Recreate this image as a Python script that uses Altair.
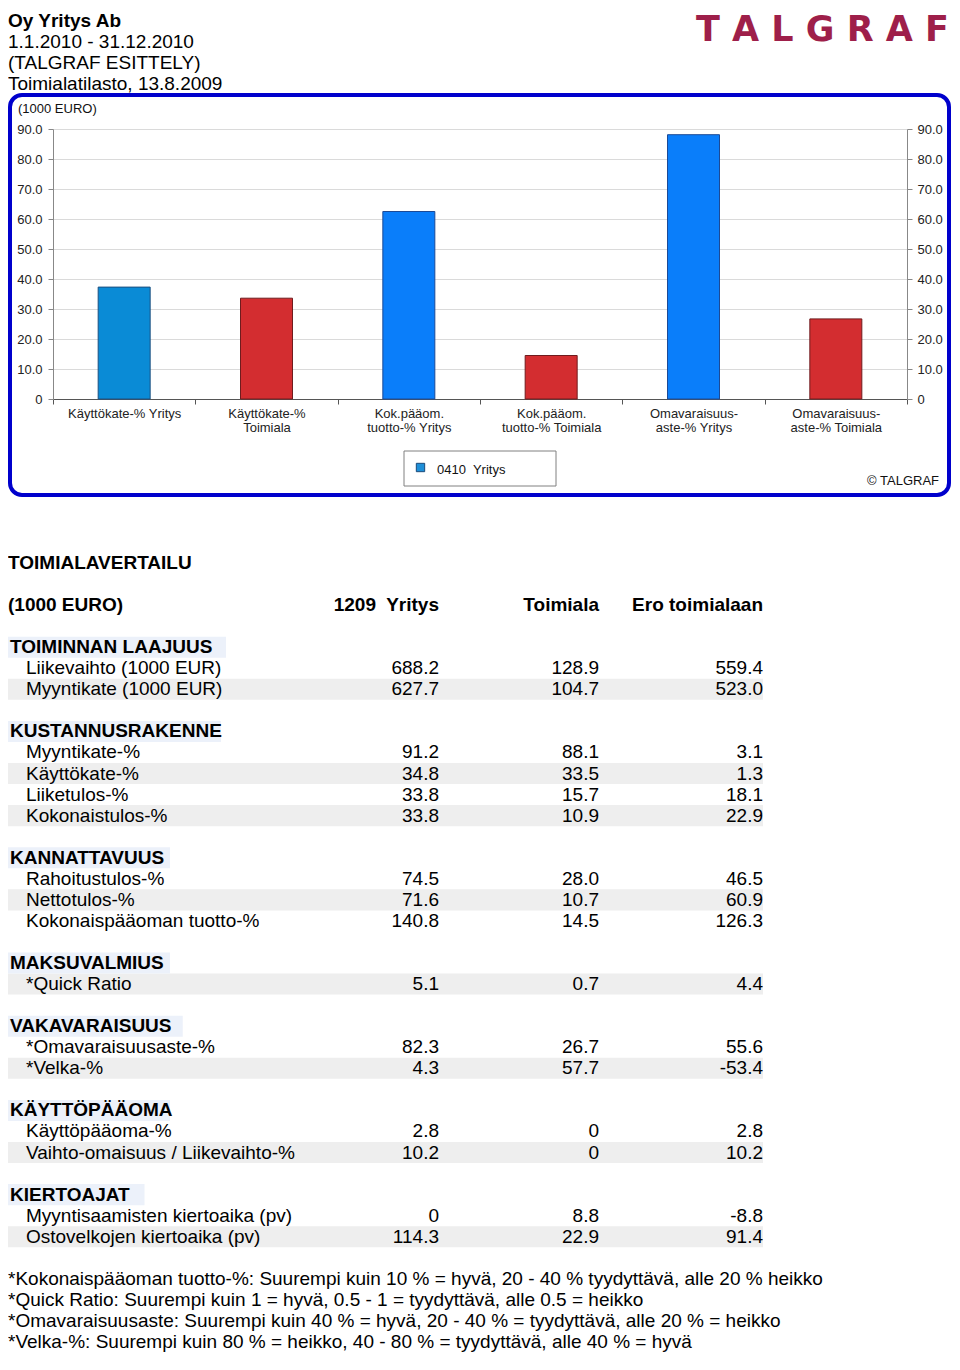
import altair as alt
import pandas as pd

FONT = "Liberation Sans"

# ---------------- header ----------------
header_lines = ["Oy Yritys Ab", "1.1.2010 - 31.12.2010", "(TALGRAF ESITTELY)", "Toimialatilasto, 13.8.2009"]
header_index = [0, 1, 2, 3]
logo_text = ["T A L G R A F"]

# ---------------- bar chart ----------------
bar_categories = [
    "Käyttökate-% Yritys",
    "Käyttökate-%|Toimiala",
    "Kok.pääom.|tuotto-% Yritys",
    "Kok.pääom.|tuotto-% Toimiala",
    "Omavaraisuus-|aste-% Yritys",
    "Omavaraisuus-|aste-% Toimiala",
]
bar_values = [37.3, 33.6, 62.5, 14.5, 88.1, 26.7]
bar_groups = ["Yritys A", "Toimiala", "Yritys", "Toimiala", "Yritys", "Toimiala"]
y_ticks = [0, 10, 20, 30, 40, 50, 60, 70, 80, 90]
unit_label = ["(1000 EURO)"]
legend_label = ["0410\u00a0 Yritys"]
copyright_label = ["© TALGRAF"]

# ---------------- table ----------------
table_title = "TOIMIALAVERTAILU"
table_unit = "(1000 EURO)"
column_headers = ["1209\u00a0 Yritys", "Toimiala", "Ero toimialaan"]
sections = ["TOIMINNAN LAAJUUS", "KUSTANNUSRAKENNE", "KANNATTAVUUS", "MAKSUVALMIUS",
            "VAKAVARAISUUS", "KÄYTTÖPÄÄOMA", "KIERTOAJAT"]
section_rows = [
    ["Liikevaihto (1000 EUR)", "Myyntikate (1000 EUR)"],
    ["Myyntikate-%", "Käyttökate-%", "Liiketulos-%", "Kokonaistulos-%"],
    ["Rahoitustulos-%", "Nettotulos-%", "Kokonaispääoman tuotto-%"],
    ["*Quick Ratio"],
    ["*Omavaraisuusaste-%", "*Velka-%"],
    ["Käyttöpääoma-%", "Vaihto-omaisuus / Liikevaihto-%"],
    ["Myyntisaamisten kiertoaika (pv)", "Ostovelkojen kiertoaika (pv)"],
]
yritys = [688.2, 627.7, 91.2, 34.8, 33.8, 33.8, 74.5, 71.6, 140.8, 5.1, 82.3, 4.3, 2.8, 10.2, 0, 114.3]
toimiala = [128.9, 104.7, 88.1, 33.5, 15.7, 10.9, 28.0, 10.7, 14.5, 0.7, 26.7, 57.7, 0, 0, 8.8, 22.9]
ero = [559.4, 523.0, 3.1, 1.3, 18.1, 22.9, 46.5, 60.9, 126.3, 4.4, 55.6, -53.4, 2.8, 10.2, -8.8, 91.4]
footnotes = [
    "*Kokonaispääoman tuotto-%: Suurempi kuin 10 % = hyvä, 20 - 40 % tyydyttävä, alle 20 % heikko",
    "*Quick Ratio: Suurempi kuin 1 = hyvä, 0.5 - 1 = tyydyttävä, alle 0.5 = heikko",
    "*Omavaraisuusaste: Suurempi kuin 40 % = hyvä, 20 - 40 % = tyydyttävä, alle 20 % = heikko",
    "*Velka-%: Suurempi kuin 80 % = heikko, 40 - 80 % = tyydyttävä, alle 40 % = hyvä",
]


def fmt(v):
    return "0" if v == 0 else f"{v:.1f}"


# build table lines
recs = [dict(line=-4, label=table_title, kind="title", v1="", v2="", v3="", shade=0),
        dict(line=-2, label=table_unit, kind="colhead", v1=column_headers[0],
             v2=column_headers[1], v3=column_headers[2], shade=0)]
line = 0
i = 0
for sec, rows in zip(sections, section_rows):
    recs.append(dict(line=line, label=sec, kind="section", v1="", v2="", v3="", shade=0))
    line += 1
    for r in rows:
        recs.append(dict(line=line, label=r, kind="row", v1=fmt(yritys[i]), v2=fmt(toimiala[i]),
                         v3=fmt(ero[i]), shade=1 if line % 2 == 0 else 0))
        i += 1
        line += 1
    line += 1
for f in footnotes:
    recs.append(dict(line=line, label=f, kind="foot", v1="", v2="", v3="", shade=0))
    line += 1
table_df = pd.DataFrame(recs)

bars_df = pd.DataFrame({"category": bar_categories, "value": bar_values, "group": bar_groups})
header_df = pd.DataFrame({"hline": header_index, "text": header_lines})
one = pd.DataFrame({"k": [0]})

# ---------------- encodings ----------------
group_domain = ["Yritys A", "Yritys", "Toimiala"]
fill_range = ["#0A8BD6", "#0A7EFA", "#D32D30"]
stroke_range = ["#1C4F80", "#1C4A96", "#6F1C1E"]

y_label_expr = "datum.value == 0 ? '0' : format(datum.value, '.1f')"

x_enc = alt.X(
    "category:N", sort=None,
    scale=alt.Scale(paddingInner=0, paddingOuter=0),
    axis=alt.Axis(title=None, labelExpr="split(datum.label, '|')", labelAngle=0,
                  labelFontSize=13, labelColor="#222", labelPadding=3, labelLineHeight=14,
                  labelBaseline="top", tickBand="extent", tickSize=5, tickColor="#555",
                  domainColor="#555", labelFont=FONT),
)

bars = alt.Chart(bars_df).mark_bar(width=52, strokeWidth=1).encode(
    x=x_enc,
    y=alt.Y("value:Q", scale=alt.Scale(domain=[0, 90], nice=False),
            axis=alt.Axis(title=None, values=y_ticks, labelExpr=y_label_expr, grid=True,
                          gridColor="#DADADA", orient="left", tickSize=5, tickColor="#888",
                          domainColor="#888", labelPadding=6, labelFontSize=13,
                          labelColor="#222", labelFont=FONT)),
    color=alt.Color("group:N", scale=alt.Scale(domain=group_domain, range=fill_range), legend=None),
    stroke=alt.Stroke("group:N", scale=alt.Scale(domain=group_domain, range=stroke_range), legend=None),
)

right_axis = alt.Chart(bars_df).mark_bar(width=52, opacity=0).encode(
    x=alt.X("category:N", sort=None, scale=alt.Scale(paddingInner=0, paddingOuter=0), axis=None),
    y=alt.Y("value:Q", scale=alt.Scale(domain=[0, 90], nice=False),
            axis=alt.Axis(title=None, values=y_ticks, labelExpr=y_label_expr, grid=False,
                          orient="right", tickSize=5, tickColor="#888", domainColor="#888",
                          labelPadding=5, labelFontSize=13, labelColor="#222", labelFont=FONT)),
)

frame = alt.Chart(one).mark_rect(filled=False, stroke="#0000CC", strokeWidth=4, cornerRadius=12).encode(
    x=alt.value(-43), x2=alt.value(896), y=alt.value(-34), y2=alt.value(366)
)

unit_text = alt.Chart(pd.DataFrame({"t": unit_label})).mark_text(
    align="left", baseline="middle", fontSize=13, font=FONT, color="#111"
).encode(x=alt.value(-35), y=alt.value(-20), text="t:N")

legend_box = alt.Chart(one).mark_rect(fill="white", stroke="#808080", strokeWidth=1).encode(
    x=alt.value(351), x2=alt.value(503), y=alt.value(322), y2=alt.value(357)
)
legend_sym = alt.Chart(one).mark_square(size=70, color="#1E8FD8", stroke="#1A4A7A", strokeWidth=1, opacity=1).encode(
    x=alt.value(367.5), y=alt.value(338.5)
)
legend_text = alt.Chart(pd.DataFrame({"t": legend_label})).mark_text(
    align="left", baseline="middle", fontSize=13, font=FONT, color="#111"
).encode(x=alt.value(384), y=alt.value(341), text="t:N")

copyright_text = alt.Chart(pd.DataFrame({"t": copyright_label})).mark_text(
    align="right", baseline="middle", fontSize=13, font=FONT, color="#111"
).encode(x=alt.value(886), y=alt.value(352), text="t:N")

# header
hy = alt.Y("hline:Q", scale=alt.Scale(domain=[0, 3], range=[-108, -45], zero=False, nice=False), axis=None)
header_bold = alt.Chart(header_df).transform_filter("datum.hline == 0").mark_text(
    align="left", baseline="middle", fontSize=19, font=FONT, fontWeight="bold", color="#000"
).encode(x=alt.value(-45), y=hy, text="text:N")
header_norm = alt.Chart(header_df).transform_filter("datum.hline > 0").mark_text(
    align="left", baseline="middle", fontSize=19, font=FONT, color="#000"
).encode(x=alt.value(-45), y=hy, text="text:N")
logo = alt.Chart(pd.DataFrame({"t": logo_text})).mark_text(
    align="right", baseline="middle", fontSize=35, font="DejaVu Sans", fontWeight="bold", color="#9E1F4A"
).encode(x=alt.value(896), y=alt.value(-99), text="t:N")

# table
t_scale = alt.Scale(domain=[-4, 33], range=[434, 1213], zero=False, nice=False)
ty = alt.Y("line:Q", scale=t_scale, axis=None)

stripes = alt.Chart(table_df).transform_filter("datum.shade == 1").transform_calculate(
    y0="datum.line - 0.5", y1="datum.line + 0.5"
).mark_rect(color="#EEEEEE").encode(
    x=alt.value(-45), x2=alt.value(710),
    y=alt.Y("y0:Q", scale=t_scale, axis=None), y2="y1:Q",
)

section_bg = alt.Chart(table_df).transform_filter("datum.kind == 'section'").transform_calculate(
    y0="datum.line - 0.5", y1="datum.line + 0.5",
    bx0="-45",
    bx1="-36 + 12.75 * length(replace(datum.label, ' ', '')) + 5 * (length(datum.label) - length(replace(datum.label, ' ', '')))",
).mark_rect(color="#ECF1FA").encode(
    x=alt.X("bx0:Q", scale=None, axis=None), x2="bx1:Q",
    y=alt.Y("y0:Q", scale=t_scale, axis=None), y2="y1:Q",
)


def ttext(filt, field, x, align="left", weight="normal"):
    return alt.Chart(table_df).transform_filter(filt).mark_text(
        align=align, baseline="middle", fontSize=19, font=FONT, fontWeight=weight, color="#000"
    ).encode(x=alt.value(x), y=ty, text=f"{field}:N")


table_layers = [
    stripes, section_bg,
    ttext("datum.kind == 'title' || datum.kind == 'colhead'", "label", -45, weight="bold"),
    ttext("datum.kind == 'section'", "label", -43, weight="bold"),
    ttext("datum.kind == 'row'", "label", -27),
    ttext("datum.kind == 'foot'", "label", -45),
    ttext("datum.kind == 'row'", "v1", 386, align="right"),
    ttext("datum.kind == 'row'", "v2", 546, align="right"),
    ttext("datum.kind == 'row'", "v3", 710, align="right"),
    ttext("datum.kind == 'colhead'", "v1", 386, align="right", weight="bold"),
    ttext("datum.kind == 'colhead'", "v2", 546, align="right", weight="bold"),
    ttext("datum.kind == 'colhead'", "v3", 710, align="right", weight="bold"),
]

chart = alt.layer(
    frame, bars, right_axis, unit_text, legend_box, legend_sym, legend_text, copyright_text,
    header_bold, header_norm, logo, *table_layers
).resolve_scale(x="independent", y="independent").properties(
    width=854, height=270, padding={"top": 4, "left": 0, "right": 0, "bottom": 0}
).configure_view(stroke=None)

chart.save("out.html", embed_options={"renderer": "svg", "actions": False})
